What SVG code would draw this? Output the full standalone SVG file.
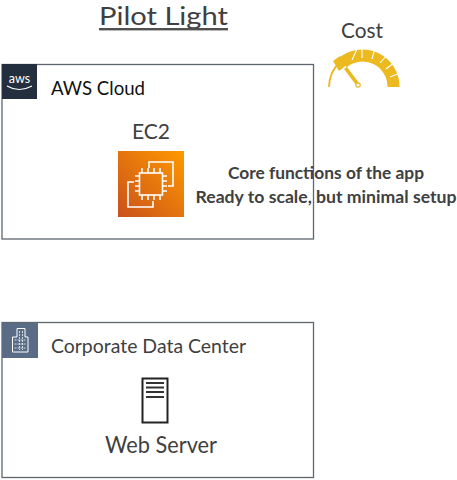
<svg xmlns="http://www.w3.org/2000/svg" width="457" height="480" viewBox="0 0 457 480">
<style>
text{font-family:"Lato","Carlito","Liberation Sans",sans-serif;fill:#404040}
.box{fill:#fff;stroke:#5f6670;stroke-width:1.3}
.lbl{font-size:20px;fill:#111}
.w{fill:none;stroke:#fff;stroke-width:1.6}
.cut{stroke:#fff;stroke-width:1.1}
</style>
<rect width="457" height="480" fill="#fff"/>
<g id="title"><text x="99" y="25" font-size="25" textLength="129" lengthAdjust="spacingAndGlyphs">Pilot Light</text><rect x="99" y="28" width="129" height="2.400" fill="#505050"/></g>
<g id="cost"><text x="341" y="38" font-size="21" textLength="42" lengthAdjust="spacingAndGlyphs">Cost</text>
<g>
<path d="M329 87A35 35 0 0 1 340 62" fill="none" stroke="#ecb91f" stroke-width="1.800"/>
<path d="M343 62.500A31 31 0 0 1 393.500 87" fill="none" stroke="#ecb91f" stroke-width="12"/>
<path class="cut" d="M352 60L357 49M362 58L362 48M372 59L375 48M380 63L388 54M386 69L395 62M390 77L400 73"/>
<polygon points="333,61 340,56 346.500,65 339,71" fill="#ecb91f"/>
<polygon points="344,69 347,67 359,83 356,85" fill="#ecb91f"/>
<circle cx="358" cy="85" r="2.200" fill="#fff" stroke="#ecb91f" stroke-width="1.200"/>
</g></g>
<g id="aws-cloud"><rect class="box" x="2" y="64.500" width="311.500" height="174.500"/>
<rect x="2" y="64" width="35" height="35" fill="#232f3e"/>
<text x="19.500" y="83" font-size="12.500" text-anchor="middle" style="fill:#fff">aws</text>
<path d="M7 86Q19 93 32 86" fill="none" stroke="#fff" stroke-width="1.200"/>
<text class="lbl" x="51" y="95" textLength="94" lengthAdjust="spacingAndGlyphs">AWS Cloud</text></g>
<g id="ec2"><text x="151" y="139" font-size="21" text-anchor="middle">EC2</text>
<defs><linearGradient id="g" x1="0" y1="1" x2="1" y2="0"><stop offset="0" stop-color="#c8511b"/><stop offset="1" stop-color="#f90"/></linearGradient></defs>
<rect x="118" y="151" width="66" height="66" fill="url(#g)"/>
<path class="w" d="M149 168V162H173V186H168M134 182H128V207H153V201"/>
<rect class="w" x="139.500" y="173" width="23" height="22"/>
<path class="w" d="M142 173V168M148 173V168M154 173V168M160 173V168M142 195V200M148 195V200M154 195V200M160 195V200M139 176H135M139 181H135M139 186H135M139 191H135M163 176H167M163 181H167M163 186H167M163 191H167"/></g>
<g id="note"><text x="326" y="179" font-size="17" font-weight="700" text-anchor="middle" textLength="196" lengthAdjust="spacingAndGlyphs">Core functions of the app</text>
<text x="326" y="203" font-size="17" font-weight="700" text-anchor="middle" textLength="261" lengthAdjust="spacingAndGlyphs">Ready to scale, but minimal setup</text></g>
<g id="corporate-data-center"><rect class="box" x="2" y="322.500" width="311.500" height="155"/>
<rect x="2" y="323" width="36" height="35" fill="#5a6b86"/>
<path d="M12.500 352V337H17V328.500H25V337H28V352Z" fill="none" stroke="#fff" stroke-width="1"/>
<path d="M19.500 331V350M22.500 331V350M14.500 340H26M14.500 344H26M14.500 348H26" stroke="#d5dae3" stroke-width="1" stroke-dasharray="2 1" fill="none"/>
<text x="51" y="353" font-size="20" textLength="195" lengthAdjust="spacingAndGlyphs">Corporate Data Center</text></g>
<g id="web-server"><rect x="142.500" y="378.500" width="25" height="44" fill="#fff" stroke="#222" stroke-width="2"/>
<path d="M146 383H164M146 387.500H164M146 392H164M146 397H164" stroke="#333" stroke-width="1.800"/>
<text x="161" y="453" font-size="23" text-anchor="middle" textLength="112" lengthAdjust="spacingAndGlyphs">Web Server</text></g>
</svg>
